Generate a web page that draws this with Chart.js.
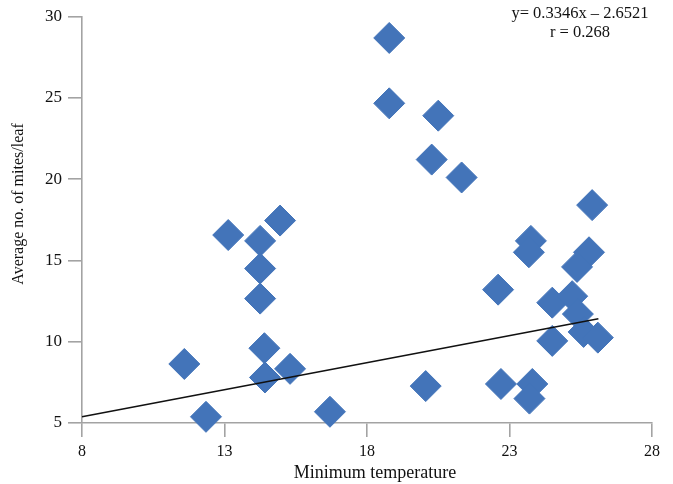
<!DOCTYPE html>
<html>
<head>
<meta charset="utf-8">
<script src="https://cdn.jsdelivr.net/npm/chart.js@4"></script>
<style>
  html, body { margin: 0; padding: 0; background: #ffffff; }
  #wrap { width: 673px; height: 484px; position: relative; }
</style>
</head>
<body>
<div id="wrap"><canvas id="myChart"></canvas></div>
<script>
// Minimum temperature (x) vs average mites per leaf (y)
var minTemp = [
    18.78, 18.78, 20.5, 20.27, 21.32,
    13.13, 14.95, 14.25, 14.25, 14.25, 14.4, 14.42, 15.3, 11.59, 12.35, 16.7,
    20.06,
    25.9, 23.75, 23.68, 25.79, 25.37, 22.6, 24.5, 25.2, 25.4, 25.6, 26.1, 24.5, 22.7, 23.8, 23.7
];
var mitesPerLeaf = [
    28.68, 24.66, 23.9, 21.2, 20.1,
    16.56, 17.45, 16.2, 14.5, 12.65, 9.6, 7.8, 8.33, 8.63, 5.38, 5.69,
    7.27,
    18.4, 16.2, 15.5, 15.5, 14.6, 13.2, 12.4, 12.8, 11.7, 10.6, 10.25, 10.05, 7.4, 7.4, 6.5
];

// trend line as drawn (end points)
var trendX = [8, 26.12];
var trendY = [5.38, 11.41];

var xTicks = [8, 13, 18, 23, 28];
var yTicks = [5, 10, 15, 20, 25, 30];

var xTitle = 'Minimum temperature';
var yTitle = 'Average no. of mites/leaf';
var equationText = 'y= 0.3346x \u2013 2.6521';
var rText = 'r = 0.268';

var serif = "'Liberation Serif', 'Times New Roman', serif";

function toPoints(xs, ys) {
    var pts = [];
    for(var i = 0; i < xs.length; i++) {
        pts.push({x: xs[i], y: ys[i]});
    }
    return pts;
}

// axis titles and the equation text in the top right corner
var textPlugin = {
    id: 'texts',
    afterDraw: function(chart) {
        var ctx = chart.ctx;
        ctx.save();
        ctx.fillStyle = '#111';
        ctx.textAlign = 'center';
        ctx.textBaseline = 'alphabetic';
        ctx.font = '16.5px ' + serif;
        ctx.fillText(equationText, 580, 18);
        ctx.fillText(rText, 580, 37);

        ctx.font = '18px ' + serif;
        ctx.fillText(xTitle, 375, 478);

        ctx.translate(23, 204);
        ctx.rotate(-Math.PI / 2);
        ctx.font = '16px ' + serif;
        ctx.fillText(yTitle, 0, 0);
        ctx.restore();
    }
};

function create_chart() {
    var ctx = document.getElementById('myChart').getContext('2d');
    globalThis.chart = new Chart(ctx, {
        type: 'scatter',
        data: {
            datasets: [{
                type: 'line',
                label: 'trend',
                data: toPoints(trendX, trendY),
                borderColor: '#111111',
                borderWidth: 1.6,
                pointRadius: 0,
                fill: false,
                order: 0,
                clip: false
            }, {
                label: 'Mites',
                data: toPoints(minTemp, mitesPerLeaf),
                pointStyle: 'rectRot',
                pointRadius: 15.5,
                pointHoverRadius: 15.5,
                backgroundColor: '#4374b9',
                borderColor: '#4374b9',
                borderWidth: 1,
                order: 1,
                clip: false
            }]
        },
        options: {
            responsive: true,
            maintainAspectRatio: false,
            animation: false,
            layout: {
                padding: {top: 12, right: 21, bottom: 0, left: 0}
            },
            plugins: {
                legend: {display: false},
                tooltip: {enabled: false}
            },
            scales: {
                x: {
                    type: 'linear',
                    min: xTicks[0],
                    max: xTicks[xTicks.length - 1],
                    afterBuildTicks: function(scale) {
                        scale.ticks = xTicks.map(function(v) { return {value: v}; });
                    },
                    afterFit: function(scale) { scale.height = 61; },
                    grid: {
                        drawOnChartArea: false,
                        drawTicks: true,
                        tickLength: 14,
                        color: '#a3a3a3',
                        lineWidth: 1.6
                    },
                    border: {display: true, color: '#a3a3a3', width: 1.6},
                    ticks: {
                        color: '#111',
                        padding: 5,
                        maxRotation: 0,
                        font: {family: serif, size: 16}
                    },
                    title: {display: false}
                },
                y: {
                    type: 'linear',
                    min: yTicks[0],
                    max: yTicks[yTicks.length - 1],
                    afterBuildTicks: function(scale) {
                        scale.ticks = yTicks.map(function(v) { return {value: v}; });
                    },
                    afterFit: function(scale) { scale.width = 82; },
                    grid: {
                        drawOnChartArea: false,
                        drawTicks: true,
                        tickLength: 14,
                        color: '#a3a3a3',
                        lineWidth: 1.6
                    },
                    border: {display: true, color: '#a3a3a3', width: 1.6},
                    ticks: {
                        color: '#111',
                        padding: 6,
                        font: {family: serif, size: 17}
                    },
                    title: {display: false}
                }
            }
        },
        plugins: [textPlugin]
    });
}

create_chart();
</script>
</body>
</html>
